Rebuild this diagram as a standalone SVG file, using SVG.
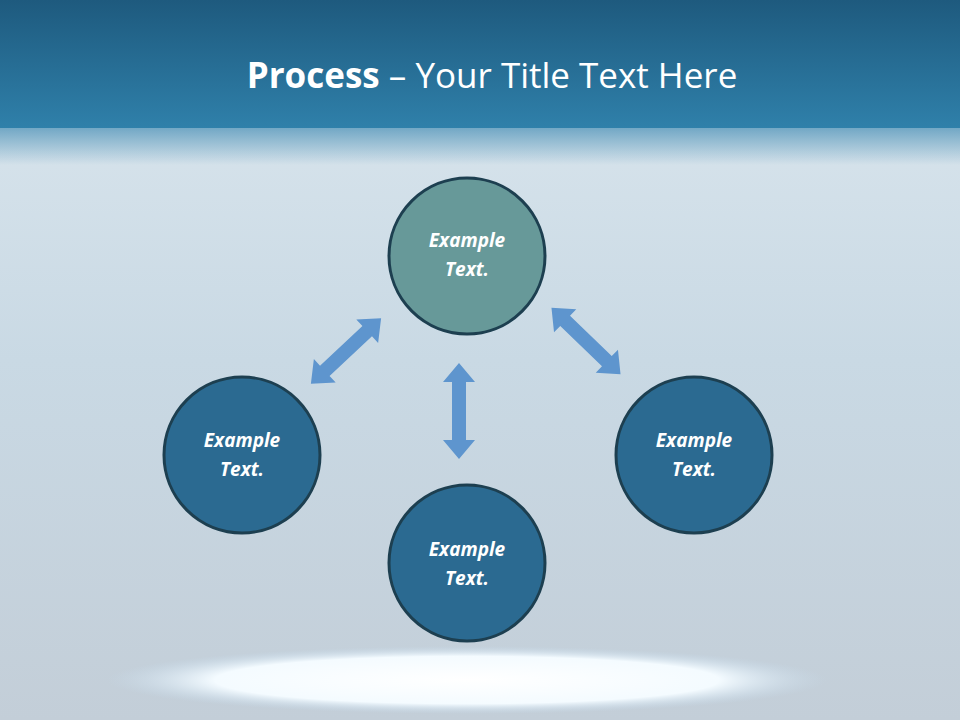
<svg xmlns="http://www.w3.org/2000/svg" xmlns:xlink="http://www.w3.org/1999/xlink" width="960" height="720" viewBox="0 0 960 720">
<defs>
<linearGradient id="bg" x1="0" y1="0" x2="0" y2="1">
<stop offset="0" stop-color="#dde8ef"/><stop offset="0.5" stop-color="#c9d9e4"/><stop offset="1" stop-color="#c3ced8"/>
</linearGradient>
<linearGradient id="bar" x1="0" y1="0" x2="0" y2="1">
<stop offset="0" stop-color="#1e5a7e"/><stop offset="1" stop-color="#2f80aa"/>
</linearGradient>
<linearGradient id="fade" x1="0" y1="0" x2="0" y2="1">
<stop offset="0" stop-color="#4f93b8" stop-opacity="0.8"/><stop offset="1" stop-color="#4f93b8" stop-opacity="0"/>
</linearGradient>
<radialGradient id="glow" cx="0.5" cy="0.5" r="0.5">
<stop offset="0" stop-color="#ffffff"/><stop offset="0.7" stop-color="#f4fbff"/><stop offset="1" stop-color="#c6dced" stop-opacity="0"/>
</radialGradient>
<polygon id="arr" points="-48,0 -29,-16 -29,-7 29,-7 29,-16 48,0 29,16 29,7 -29,7 -29,16"/>
<style>
.c{stroke:#1d3f50;stroke-width:3}
.t{font-family:"Open Sans","Liberation Sans",sans-serif;font-weight:bold;font-style:italic;font-size:19px;fill:#fff;text-anchor:middle}
.a{fill:#5e95ce}
</style>
</defs>
<rect width="960" height="720" fill="url(#bg)"/>
<rect y="125" width="960" height="40" fill="url(#fade)"/>
<rect width="960" height="128" fill="url(#bar)"/>
<ellipse cx="467" cy="680" rx="360" ry="34" fill="url(#glow)"/>
<text x="492" y="88" text-anchor="middle" font-family="Open Sans, Liberation Sans, sans-serif" font-size="35" fill="#fff"><tspan font-weight="bold">Process</tspan> – Your Title Text Here</text>
<g id="connectors">
<use xlink:href="#arr" class="a" transform="translate(346,351) rotate(-43)"/>
<use xlink:href="#arr" class="a" transform="translate(586,341) rotate(44)"/>
<use xlink:href="#arr" class="a" transform="translate(459,411) rotate(90)"/>
</g>
<g id="n-top"><circle cx="467" cy="256" r="78" fill="#679999" class="c"/><text class="t" x="467" y="247">Example</text><text class="t" x="467" y="276">Text.</text></g>
<g id="n-left"><circle cx="242" cy="455" r="78" fill="#2b6a91" class="c"/><text class="t" x="242" y="447">Example</text><text class="t" x="242" y="476">Text.</text></g>
<g id="n-right"><circle cx="694" cy="455" r="78" fill="#2b6a91" class="c"/><text class="t" x="694" y="447">Example</text><text class="t" x="694" y="476">Text.</text></g>
<g id="n-bottom"><circle cx="467" cy="563" r="78" fill="#2b6a91" class="c"/><text class="t" x="467" y="556">Example</text><text class="t" x="467" y="585">Text.</text></g>
</svg>
